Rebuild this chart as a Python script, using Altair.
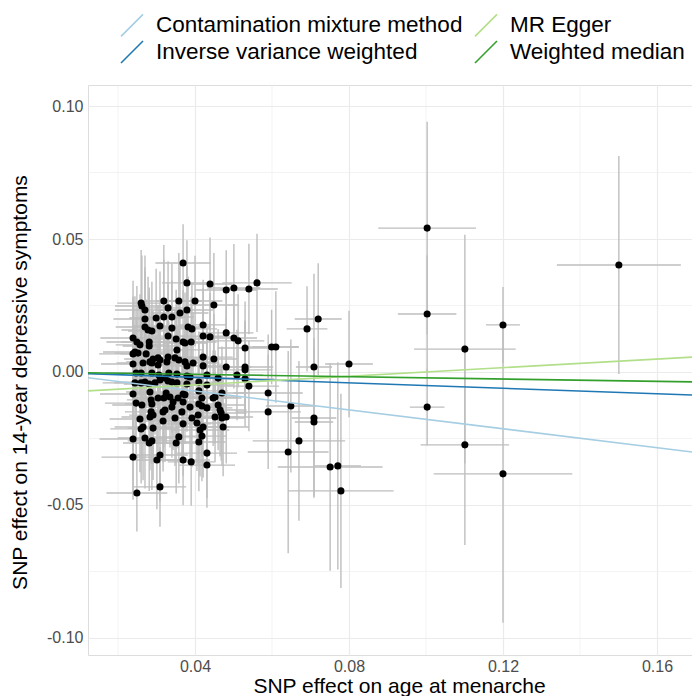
import altair as alt
import pandas as pd

# SNP effects on age at menarche (x) and 14-year depressive symptoms (y)
bx = [
    0.0369, 0.0379, 0.0439, 0.0481, 0.0501, 0.0540, 0.0561, 0.0260, 0.0262, 0.0319,
    0.0358, 0.0400, 0.0449, 0.0270, 0.0330, 0.0379, 0.0361, 0.0340, 0.0319, 0.0299,
    0.0270, 0.0421, 0.0309, 0.0340, 0.0382, 0.0392, 0.0270, 0.0278, 0.0288, 0.0481,
    0.0421, 0.0439, 0.0501, 0.0512, 0.0239, 0.0330, 0.0351, 0.0369, 0.0390, 0.0281,
    0.0249, 0.0257, 0.0281, 0.0530, 0.0239, 0.0252, 0.0273, 0.0291, 0.0309, 0.0330,
    0.0348, 0.0379, 0.0395, 0.0421, 0.0449, 0.0481, 0.0530, 0.0239, 0.0265, 0.0288,
    0.0530, 0.0421, 0.0247, 0.0260, 0.0288, 0.0306, 0.0332, 0.0353, 0.0379, 0.0431,
    0.0509, 0.0530, 0.0460, 0.0244, 0.0260, 0.0281, 0.0309, 0.0330, 0.0353, 0.0379,
    0.0410, 0.0431, 0.0540, 0.0590, 0.0239, 0.0283, 0.0325, 0.0369, 0.0410, 0.0470,
    0.0247, 0.0286, 0.0288, 0.0319, 0.0335, 0.0343, 0.0369, 0.0410, 0.0418, 0.0447,
    0.0431, 0.0452, 0.0460, 0.0590, 0.0317, 0.0286, 0.0257, 0.0291, 0.0317, 0.0348,
    0.0369, 0.0392, 0.0405, 0.0421, 0.0413, 0.0452, 0.0470, 0.0481, 0.0473, 0.0265,
    0.0260, 0.0291, 0.0239, 0.0270, 0.0288, 0.0281, 0.0358, 0.0351, 0.0410, 0.0418,
    0.0239, 0.0309, 0.0301, 0.0369, 0.0390, 0.0431, 0.0431, 0.0309, 0.0249, 0.0468,
    0.0283, 0.0304, 0.0327, 0.0374, 0.0374, 0.0353, 0.0304, 0.0358, 0.0322, 0.0340,
    0.0387, 0.0304, 0.0356, 0.0374, 0.0262, 0.0322, 0.0340, 0.0366, 0.0387, 0.0283,
    0.0296, 0.0270, 0.0244, 0.0418, 0.0465, 0.0408,
    0.0720, 0.0691, 0.0599, 0.0610, 0.0709, 0.0800, 0.0649, 0.0709, 0.0709, 0.0670,
    0.0642, 0.0751, 0.0771, 0.0779, 0.1003, 0.1003, 0.1003, 0.1101, 0.1101, 0.1200,
    0.1200, 0.1501,
]
by = [
    0.0410, 0.0335, 0.0331, 0.0308, 0.0316, 0.0312, 0.0335, 0.0259, 0.0248, 0.0267,
    0.0267, 0.0267, 0.0252, 0.0233, 0.0241, 0.0233, 0.0222, 0.0207, 0.0207, 0.0203,
    0.0199, 0.0177, 0.0173, 0.0165, 0.0169, 0.0162, 0.0169, 0.0158, 0.0154, 0.0147,
    0.0135, 0.0132, 0.0128, 0.0117, 0.0128, 0.0135, 0.0124, 0.0113, 0.0113, 0.0113,
    0.0113, 0.0102, 0.0098, 0.0090, 0.0068, 0.0071, 0.0068, 0.0049, 0.0045, 0.0056,
    0.0053, 0.0023, 0.0034, 0.0056, 0.0049, 0.0019, 0.0019, 0.0030, 0.0034, 0.0034,
    0.0008, 0.0023, -0.0004, -0.0004, -0.0004, -0.0011, -0.0004, -0.0008, -0.0015, -0.0011,
    -0.0011, -0.0026, -0.0023, -0.0041, -0.0041, -0.0045, -0.0030, -0.0034, -0.0041, -0.0045,
    -0.0038, -0.0049, -0.0053, -0.0079, -0.0083, -0.0075, -0.0079, -0.0083, -0.0071, -0.0079,
    -0.0117, -0.0105, -0.0120, -0.0098, -0.0094, -0.0113, -0.0113, -0.0120, -0.0098, -0.0098,
    -0.0135, -0.0094, -0.0124, -0.0150, -0.0150, -0.0150, -0.0177, -0.0162, -0.0184, -0.0173,
    -0.0195, -0.0173, -0.0192, -0.0207, -0.0218, -0.0169, -0.0173, -0.0169, -0.0207, -0.0207,
    -0.0214, -0.0211, -0.0252, -0.0248, -0.0259, -0.0267, -0.0244, -0.0267, -0.0263, -0.0241,
    -0.0320, -0.0312, -0.0331, -0.0331, -0.0338, -0.0305, -0.0350, -0.0432, -0.0455, -0.0154,
    0.0038, 0.0026, 0.0038, 0.0038, 0.0109, 0.0083, 0.0053, 0.0045, -0.0023, -0.0038,
    -0.0019, -0.0098, -0.0098, -0.0086, -0.0124, -0.0143, -0.0132, -0.0150, -0.0132, -0.0169,
    -0.0041, -0.0038, 0.0075, -0.0128, -0.0143, -0.0162,
    0.0199, 0.0162, 0.0094, 0.0094, 0.0019, 0.0030, -0.0128, -0.0173, -0.0188, -0.0259,
    -0.0301, -0.0357, -0.0353, -0.0447, 0.0541, 0.0218, -0.0132, 0.0086, -0.0274, 0.0177,
    -0.0383, 0.0402,
]
# error bar half-widths
se_x = [
    .0072, .0065, .0058, .0081, .0069, .0075, .0090, .0062, .0070, .0066,
    .0059, .0071, .0064, .0078, .0060, .0068, .0074, .0057, .0063, .0070,
    .0082, .0061, .0067, .0072, .0058, .0065, .0076, .0069, .0062, .0071,
    .0064, .0073, .0060, .0068, .0085, .0062, .0070, .0057, .0066, .0074,
    .0079, .0063, .0069, .0072, .0088, .0061, .0067, .0075, .0059, .0064,
    .0070, .0062, .0068, .0077, .0060, .0066, .0073, .0083, .0069, .0058,
    .0071, .0064, .0080, .0067, .0061, .0074, .0059, .0065, .0072, .0063,
    .0068, .0076, .0062, .0084, .0070, .0066, .0060, .0073, .0057, .0069,
    .0064, .0071, .0078, .0090, .0086, .0062, .0068, .0060, .0075, .0066,
    .0081, .0063, .0070, .0059, .0067, .0072, .0061, .0069, .0064, .0074,
    .0066, .0060, .0071, .0085, .0063, .0068, .0079, .0062, .0070, .0058,
    .0073, .0065, .0061, .0069, .0076, .0064, .0059, .0070, .0067, .0074,
    .0080, .0066, .0087, .0071, .0063, .0068, .0075, .0060, .0069, .0064,
    .0082, .0072, .0065, .0070, .0061, .0078, .0073, .0068, .0079, .0066,
    .0062, .0069, .0064, .0071, .0058, .0067, .0063, .0070, .0060, .0065,
    .0072, .0061, .0068, .0066, .0077, .0063, .0070, .0059, .0067, .0074,
    .0065, .0073, .0083, .0062, .0069, .0071,
    .0061, .0053, .0070, .0060, .0047, .0062, .0065, .0058, .0050, .0120,
    .0105, .0136, .0060, .0137, .0127, .0076, .0045, .0132, .0115, .0044,
    .0180, .0161,
]
se_y = [
    .0145, .0160, .0175, .0150, .0165, .0170, .0185, .0200, .0190, .0210,
    .0180, .0170, .0195, .0205, .0175, .0165, .0190, .0200, .0215, .0185,
    .0195, .0170, .0205, .0180, .0190, .0175, .0210, .0200, .0185, .0170,
    .0180, .0165, .0190, .0175, .0215, .0200, .0185, .0195, .0170, .0205,
    .0210, .0190, .0200, .0175, .0215, .0195, .0205, .0180, .0190, .0200,
    .0185, .0175, .0190, .0180, .0170, .0185, .0175, .0220, .0200, .0195,
    .0180, .0175, .0210, .0200, .0190, .0185, .0195, .0180, .0190, .0175,
    .0170, .0180, .0185, .0215, .0200, .0195, .0190, .0185, .0200, .0180,
    .0190, .0175, .0170, .0220, .0210, .0195, .0185, .0190, .0180, .0175,
    .0205, .0195, .0200, .0185, .0190, .0180, .0195, .0185, .0175, .0180,
    .0185, .0175, .0170, .0215, .0190, .0195, .0200, .0185, .0190, .0180,
    .0195, .0185, .0180, .0190, .0175, .0170, .0180, .0175, .0185, .0200,
    .0205, .0195, .0200, .0190, .0185, .0180, .0175, .0190, .0185, .0170,
    .0160, .0175, .0185, .0170, .0165, .0170, .0160, .0150, .0145, .0180,
    .0190, .0185, .0195, .0180, .0190, .0185, .0200, .0180, .0195, .0190,
    .0185, .0200, .0190, .0185, .0205, .0195, .0190, .0185, .0190, .0200,
    .0195, .0205, .0210, .0190, .0175, .0185,
    .0210, .0160, .0140, .0210, .0350, .0200, .0250, .0300, .0280, .0300,
    .0380, .0390, .0390, .0365, .0400, .0220, .0144, .0430, .0376, .0143,
    .0560, .0410,
]
assert len(bx) == len(by) == len(se_x) == len(se_y), (len(bx), len(by), len(se_x), len(se_y))

# MR method fits (intercept, slope)
methods = ["Contamination mixture method", "Inverse variance weighted", "MR Egger", "Weighted median"]
intercepts = [0.0, 0.0, -0.0081, 0.0]
slopes = [-0.178, -0.051, 0.081, -0.022]
colors = ["#A6CEE3", "#1F78B4", "#B2DF8A", "#33A02C"]

x_ticks = [0.04, 0.08, 0.12, 0.16]
x_minor = [0.02, 0.06, 0.10, 0.14]
y_ticks = [-0.10, -0.05, 0.0, 0.05, 0.10]
y_minor = [-0.075, -0.025, 0.025, 0.075]
x_domain = [0.0122, 0.1691]
y_domain = [-0.1064, 0.1079]

pts = pd.DataFrame({"bx": bx, "by": by, "sx": se_x, "sy": se_y})
fits = pd.DataFrame({"method": methods, "intercept": intercepts, "slope": slopes})
xmin_df = pd.DataFrame({"v": x_minor})
ymin_df = pd.DataFrame({"v": y_minor})

GRID = "#EBEBEB"
xscale = alt.Scale(domain=x_domain, nice=False, zero=False)
yscale = alt.Scale(domain=y_domain, nice=False, zero=False)
minus_fix = "replace(format(datum.value, '.2f'), '\u2212', '-')"

xaxis = alt.Axis(
    values=x_ticks, labelExpr=minus_fix, grid=True, gridColor=GRID, gridWidth=1.2,
    domain=False, ticks=False, labelFontSize=16, labelColor="#4D4D4D", labelPadding=3,
    title="SNP effect on age at menarche", titleFontSize=21, titleFontWeight="normal",
    titleColor="black", titleX=311, titleY=31, titleBaseline="middle", titleAlign="center",
)
yaxis = alt.Axis(
    values=y_ticks, labelExpr=minus_fix, grid=True, gridColor=GRID, gridWidth=1.2,
    domain=False, ticks=False, labelFontSize=16, labelColor="#4D4D4D", labelPadding=5,
    title="SNP effect on 14-year depressive symptoms", titleFontSize=21,
    titleFontWeight="normal", titleColor="black", titleX=-68, titleY=297,
    titleAngle=270, titleBaseline="middle", titleAlign="center",
)

minor_x = alt.Chart(xmin_df).mark_rule(color=GRID, strokeWidth=0.6).encode(
    x=alt.X("v:Q", scale=xscale, axis=xaxis)
)
minor_y = alt.Chart(ymin_df).mark_rule(color=GRID, strokeWidth=0.6).encode(
    y=alt.Y("v:Q", scale=yscale, axis=yaxis)
)

base = alt.Chart(pts).transform_calculate(
    xlo="datum.bx - datum.sx", xhi="datum.bx + datum.sx",
    ylo="datum.by - datum.sy", yhi="datum.by + datum.sy",
)
hbars = base.mark_rule(color="#BEBEBE", strokeWidth=1.4, clip=True).encode(
    x=alt.X("xlo:Q", scale=xscale, axis=xaxis), x2="xhi:Q",
    y=alt.Y("by:Q", scale=yscale, axis=yaxis),
)
vbars = base.mark_rule(color="#BEBEBE", strokeWidth=1.4, clip=True).encode(
    x=alt.X("bx:Q", scale=xscale, axis=xaxis),
    y=alt.Y("ylo:Q", scale=yscale, axis=yaxis), y2="yhi:Q",
)
dots = alt.Chart(pts).mark_circle(color="black", size=50, opacity=1).encode(
    x=alt.X("bx:Q", scale=xscale, axis=xaxis),
    y=alt.Y("by:Q", scale=yscale, axis=yaxis),
)
lines = alt.Chart(fits).transform_calculate(
    x0=f"{x_domain[0]}", x1=f"{x_domain[1]}",
    y0=f"datum.intercept + datum.slope * {x_domain[0]}",
    y1=f"datum.intercept + datum.slope * {x_domain[1]}",
).mark_rule(strokeWidth=1.6, clip=True).encode(
    x=alt.X("x0:Q", scale=xscale, axis=xaxis), x2="x1:Q",
    y=alt.Y("y0:Q", scale=yscale, axis=yaxis), y2="y1:Q",
    color=alt.Color(
        "method:N",
        scale=alt.Scale(domain=methods, range=colors),
        legend=alt.Legend(
            title=None, orient="none", legendX=32, legendY=-72, columns=2,
            symbolType="M-1,1L1,-1", symbolSize=484, symbolStrokeWidth=1.6,
            labelFontSize=22.5, labelColor="black", labelOffset=12,
            columnPadding=8, rowPadding=-5, labelLimit=0,
        ),
    ),
)

chart = alt.layer(minor_x, minor_y, hbars, vbars, dots, lines).properties(
    width=604, height=570,
    padding={"left": 80, "top": 77, "right": 0, "bottom": 41},
    autosize=alt.AutoSizeParams(type="none"),
).configure_view(strokeWidth=0).configure(font="Liberation Sans")

chart.save("out.html", embed_options={"renderer": "svg", "actions": False})
